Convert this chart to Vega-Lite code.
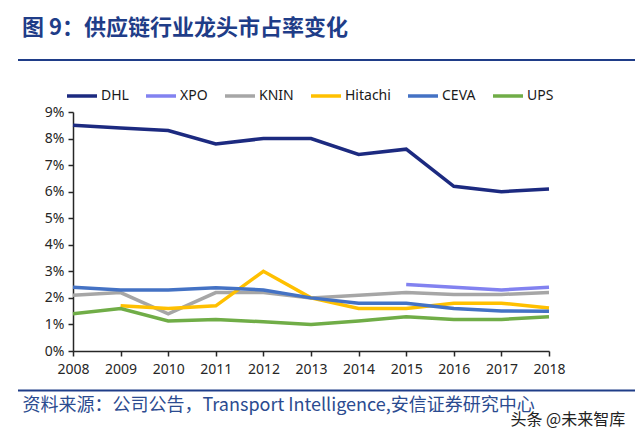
{
  "$schema": "https://vega.github.io/schema/vega-lite/v6.json",
  "width": 476,
  "height": 239,
  "autosize": {"type": "none"},
  "padding": {"left": 73, "top": 112, "right": 91, "bottom": 87},
  "background": "white",
  "title": {
    "text": "图 9：供应链行业龙头市占率变化",
    "anchor": "start",
    "frame": "group",
    "dx": -51,
    "offset": 19,
    "font": "Noto Sans CJK SC",
    "fontSize": 22,
    "fontWeight": "bold",
    "color": "#1f3d88"
  },
  "config": {
    "view": {"stroke": null},
    "font": "Noto Sans",
    "axis": {"grid": false, "domainColor": "#262626", "tickColor": "#262626", "domainWidth": 1.5, "tickWidth": 1.5, "labelColor": "#262626", "labelFont": "Noto Sans", "labelFontSize": 13}
  },
  "layer": [
    {
      "data": {"values": [{}]},
      "mark": {"type": "rule", "color": "#1f3d88", "strokeWidth": 2},
      "encoding": {"x": {"value": -55}, "x2": {"value": 562}, "y": {"value": -52}}
    },
    {
      "data": {"values": [{}]},
      "mark": {"type": "rule", "color": "#1f3d88", "strokeWidth": 2},
      "encoding": {"x": {"value": -55}, "x2": {"value": 562}, "y": {"value": 278.5}}
    },
    {
      "data": {
        "values": [
          {"year": "2008", "company": "DHL", "share": 8.5},
          {"year": "2009", "company": "DHL", "share": 8.4},
          {"year": "2010", "company": "DHL", "share": 8.3},
          {"year": "2011", "company": "DHL", "share": 7.8},
          {"year": "2012", "company": "DHL", "share": 8.0},
          {"year": "2013", "company": "DHL", "share": 8.0},
          {"year": "2014", "company": "DHL", "share": 7.4},
          {"year": "2015", "company": "DHL", "share": 7.6},
          {"year": "2016", "company": "DHL", "share": 6.2},
          {"year": "2017", "company": "DHL", "share": 6.0},
          {"year": "2018", "company": "DHL", "share": 6.1},
          {"year": "2015", "company": "XPO", "share": 2.5},
          {"year": "2016", "company": "XPO", "share": 2.4},
          {"year": "2017", "company": "XPO", "share": 2.3},
          {"year": "2018", "company": "XPO", "share": 2.4},
          {"year": "2008", "company": "KNIN", "share": 2.1},
          {"year": "2009", "company": "KNIN", "share": 2.2},
          {"year": "2010", "company": "KNIN", "share": 1.4},
          {"year": "2011", "company": "KNIN", "share": 2.2},
          {"year": "2012", "company": "KNIN", "share": 2.2},
          {"year": "2013", "company": "KNIN", "share": 2.0},
          {"year": "2014", "company": "KNIN", "share": 2.1},
          {"year": "2015", "company": "KNIN", "share": 2.2},
          {"year": "2016", "company": "KNIN", "share": 2.13},
          {"year": "2017", "company": "KNIN", "share": 2.13},
          {"year": "2018", "company": "KNIN", "share": 2.2},
          {"year": "2009", "company": "Hitachi", "share": 1.7},
          {"year": "2010", "company": "Hitachi", "share": 1.6},
          {"year": "2011", "company": "Hitachi", "share": 1.7},
          {"year": "2012", "company": "Hitachi", "share": 3.0},
          {"year": "2013", "company": "Hitachi", "share": 2.0},
          {"year": "2014", "company": "Hitachi", "share": 1.6},
          {"year": "2015", "company": "Hitachi", "share": 1.6},
          {"year": "2016", "company": "Hitachi", "share": 1.8},
          {"year": "2017", "company": "Hitachi", "share": 1.8},
          {"year": "2018", "company": "Hitachi", "share": 1.62},
          {"year": "2008", "company": "CEVA", "share": 2.4},
          {"year": "2009", "company": "CEVA", "share": 2.3},
          {"year": "2010", "company": "CEVA", "share": 2.3},
          {"year": "2011", "company": "CEVA", "share": 2.38},
          {"year": "2012", "company": "CEVA", "share": 2.3},
          {"year": "2013", "company": "CEVA", "share": 2.0},
          {"year": "2014", "company": "CEVA", "share": 1.8},
          {"year": "2015", "company": "CEVA", "share": 1.8},
          {"year": "2016", "company": "CEVA", "share": 1.6},
          {"year": "2017", "company": "CEVA", "share": 1.51},
          {"year": "2018", "company": "CEVA", "share": 1.5},
          {"year": "2008", "company": "UPS", "share": 1.4},
          {"year": "2009", "company": "UPS", "share": 1.6},
          {"year": "2010", "company": "UPS", "share": 1.13},
          {"year": "2011", "company": "UPS", "share": 1.19},
          {"year": "2012", "company": "UPS", "share": 1.1},
          {"year": "2013", "company": "UPS", "share": 1.0},
          {"year": "2014", "company": "UPS", "share": 1.13},
          {"year": "2015", "company": "UPS", "share": 1.29},
          {"year": "2016", "company": "UPS", "share": 1.19},
          {"year": "2017", "company": "UPS", "share": 1.19},
          {"year": "2018", "company": "UPS", "share": 1.29}
        ]
      },
      "mark": {"type": "line", "strokeWidth": 3.5, "strokeJoin": "miter", "strokeCap": "butt"},
      "encoding": {
        "x": {
          "field": "year",
          "type": "ordinal",
          "scale": {"type": "point", "padding": 0},
          "axis": {
            "labelAngle": 0,
            "tickSize": 5,
            "labelPadding": 6,
            "labelFontSize": 14,
            "title": "资料来源：公司公告，Transport Intelligence,安信证券研究中心",
            "titleX": -51,
            "titleY": 54,
            "titleAlign": "left",
            "titleBaseline": "middle",
            "titleFont": "Noto Sans CJK SC",
            "titleFontSize": 18,
            "titleFontWeight": "normal",
            "titleColor": "#2b4b90"
          }
        },
        "y": {
          "field": "share",
          "type": "quantitative",
          "scale": {"domain": [0, 9], "nice": false, "zero": true},
          "axis": {
            "values": [0, 1, 2, 3, 4, 5, 6, 7, 8, 9],
            "labelExpr": "datum.value + '%'",
            "tickSize": 5,
            "labelPadding": 4,
            "labelFontSize": 14,
            "title": "头条 @未来智库",
            "titleAngle": 0,
            "titleX": 437,
            "titleY": 307,
            "titleAlign": "left",
            "titleBaseline": "middle",
            "titleFont": "Noto Sans CJK SC",
            "titleFontSize": 16,
            "titleFontWeight": "normal",
            "titleColor": "#222222"
          }
        },
        "color": {
          "field": "company",
          "type": "nominal",
          "sort": ["DHL", "XPO", "KNIN", "Hitachi", "CEVA", "UPS"],
          "scale": {
            "domain": ["DHL", "XPO", "KNIN", "Hitachi", "CEVA", "UPS"],
            "range": ["#1c2a80", "#8282f0", "#a6a6a6", "#ffc000", "#4472c4", "#70ad47"]
          },
          "legend": {
            "orient": "none",
            "legendX": -8,
            "legendY": -33,
            "direction": "horizontal",
            "title": null,
            "symbolType": "stroke",
            "symbolSize": 900,
            "symbolStrokeWidth": 3.5,
            "labelFont": "Noto Sans",
            "labelFontSize": 14,
            "labelColor": "#1a1a1a",
            "labelOffset": 2,
            "columnPadding": 10
          }
        }
      }
    }
  ]
}
